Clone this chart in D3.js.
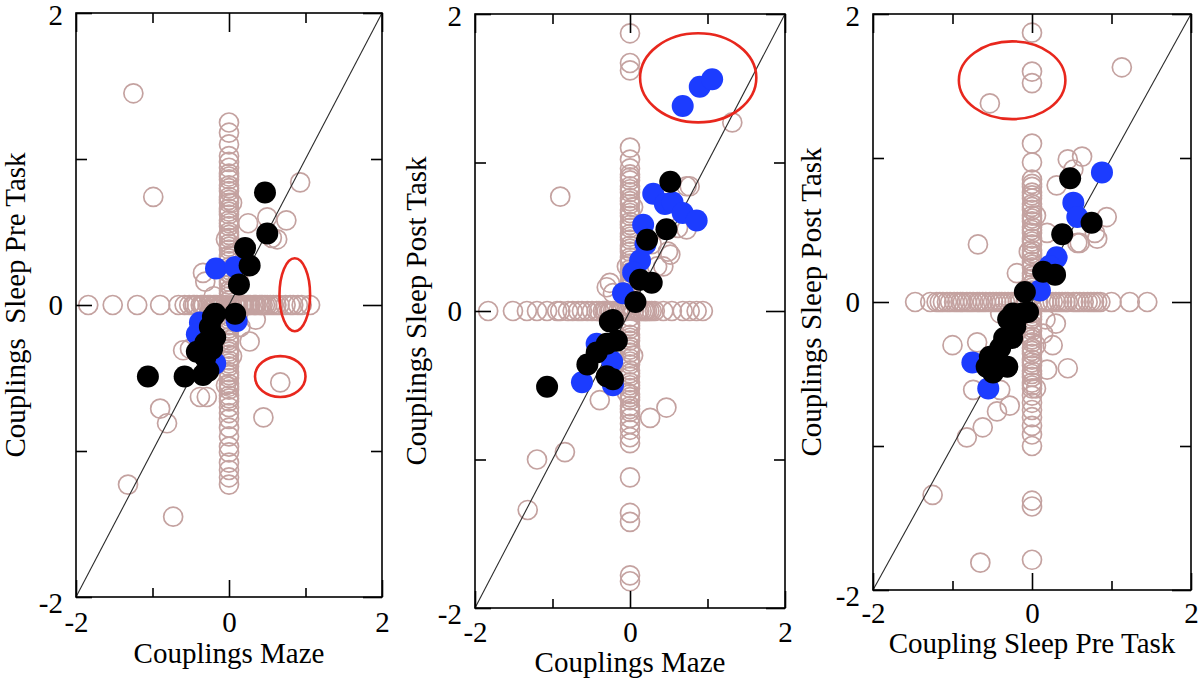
<!DOCTYPE html>
<html><head><meta charset="utf-8">
<script src="https://cdn.jsdelivr.net/npm/d3@7"></script>
<style>html,body{margin:0;padding:0;background:#fff;}</style>
</head><body>
<script>
// ---------------- DATA ----------------
const majorTicks = [-2, 0, 2];
const minorTicks = [-1, 1];
const tickLabels = {"-2": "-2", "0": "0", "2": "2"};

const xTitles = ["Couplings Maze", "Couplings Maze", "Coupling Sleep Pre Task"];
const yTitles = ["Couplings  Sleep Pre Task", "Couplings Sleep Post Task", "Couplings Sleep Post Task"];

// Panel 1 : Maze vs Sleep Pre
const p1Column = [1.25,1.18,1.1,1.02,0.98,0.94,0.9,0.86,0.82,0.78,0.74,0.7,0.66,0.62,0.58,0.54,0.5,0.46,0.42,0.38,0.34,0.3,0.26,0.22,0.18,0.14,0.1,0.06,-0.06,-0.1,-0.14,-0.18,-0.22,-0.26,-0.3,-0.34,-0.38,-0.42,-0.46,-0.5,-0.54,-0.58,-0.62,-0.66,-0.7,-0.74,-0.78,-0.84,-0.9,-0.97,-1.01,-1.08,-1.13,-1.18,-1.23,
  0.88,0.8,0.72,0.64,0.56,0.48,0.4,0.32,0.24,0.16,0.08,0.03,-0.03,-0.08,-0.16,-0.24,-0.32,-0.4,-0.48,-0.56,-0.64];
const p1Row = [-1.84,-1.52,-1.2,-0.9,-0.66,-0.58,-0.52,-0.47,-0.42,-0.37,-0.33,-0.28,-0.24,-0.2,-0.16,-0.12,-0.08,-0.04,0.04,0.08,0.12,0.16,0.2,0.24,0.28,0.32,0.36,0.4,0.44,0.5,0.58,0.66,0.74,0.8,0.84,0.9,0.95,1.06,
  -0.45,-0.35,-0.26,-0.18,-0.1,0.1,0.18,0.26,0.34,0.42,0.47,0.54,0.62];
const p1Scatter = [[-1.25,1.45],[-0.99,0.74],[0.93,0.84],[0.75,0.58],[0.5,0.6],[0.25,0.56],[0.63,0.45],[0.56,0.46],[0.67,-0.53],[0.45,-0.77],[0.27,-0.25],[-0.51,-0.3],[-0.6,-0.31],[-0.38,-0.63],[-0.29,-0.63],[-0.9,-0.71],[-0.81,-0.81],[-1.32,-1.23],[-0.73,-1.45],[0.35,-0.1],[-0.31,0.16],[-0.34,0.22],[0.15,-0.15],[-0.12,-0.14],[0.2,0.3],[0.12,0.18],[-0.2,0.06],[0.04,0.7],[-0.04,0.45],[0.04,-0.35],[-0.04,-0.55],[0.03,0.2]];
const p1Blue = [[-0.17,0.25],[0.08,0.26],[-0.38,-0.12],[-0.42,-0.2],[-0.18,-0.4],[0.1,-0.11]];
const p1Black = [[0.47,0.77],[0.5,0.49],[0.21,0.39],[0.27,0.27],[0.13,0.14],[0.08,-0.06],[-0.18,-0.06],[-0.21,-0.08],[-0.25,-0.15],[-0.18,-0.22],[-0.31,-0.26],[-0.42,-0.32],[-0.31,-0.36],[-1.06,-0.49],[-0.58,-0.49],[-0.34,-0.48],[-0.27,-0.45],[-0.22,-0.3]];
const p1Ellipses = [[0.86,0.07,0.2,0.25],[0.67,-0.49,0.33,0.14]];

// Panel 2 : Maze vs Sleep Post
const p2Column = [1.87,1.67,1.62,1.1,1.02,0.96,0.92,0.88,0.84,0.8,0.76,0.72,0.68,0.64,0.6,0.56,0.52,0.48,0.44,0.4,0.36,0.32,0.28,0.24,0.2,0.16,0.12,0.08,0.04,-0.04,-0.08,-0.12,-0.16,-0.2,-0.24,-0.28,-0.32,-0.36,-0.4,-0.44,-0.48,-0.52,-0.56,-0.6,-0.64,-0.68,-0.72,-0.76,-0.8,-0.85,-0.89,-1.12,-1.36,-1.42,-1.78,-1.82,
  0.9,0.82,0.74,0.66,0.58,0.5,0.42,0.34,0.26,0.18,0.1,-0.1,-0.18,-0.26,-0.34,-0.42,-0.5,-0.58,-0.66];
const p2Row = [-1.83,-1.51,-1.33,-1.2,-1.07,-0.94,-0.9,-0.8,-0.74,-0.67,-0.62,-0.55,-0.49,-0.43,-0.35,-0.3,-0.25,-0.2,-0.15,-0.1,-0.05,0.05,0.1,0.15,0.2,0.25,0.32,0.43,0.54,0.68,0.77,0.86,0.94,
  -0.4,-0.33,-0.27,-0.22,-0.12,0.12,0.18,0.22,0.28];
const p2Scatter = [[-0.9,0.77],[1.32,1.27],[0.73,0.84],[0.77,0.84],[0.73,0.55],[0.49,0.4],[0.43,0.3],[0.52,0.38],[0.35,0.3],[-0.3,0.16],[-0.22,0.12],[-0.26,0.19],[-0.39,-0.6],[0.47,-0.65],[0.26,-0.72],[-1.2,-1.0],[-0.84,-0.95],[-1.32,-1.34],[0.62,0.56],[0.28,0.45],[0.04,0.7],[-0.04,0.3],[0.04,-0.3],[-0.04,-0.55]];
const p2Blue = [[0.68,1.38],[0.9,1.51],[1.06,1.56],[0.3,0.79],[0.45,0.72],[0.55,0.73],[0.68,0.66],[0.86,0.61],[0.17,0.58],[0.2,0.45],[0.13,0.34],[0.04,0.26],[-0.09,0.12],[-0.43,-0.22],[-0.23,-0.34],[-0.62,-0.48],[-0.22,-0.5]];
const p2Black = [[0.52,0.87],[0.47,0.55],[0.22,0.48],[0.13,0.21],[0.28,0.19],[0.07,0.06],[-0.22,-0.06],[-0.26,-0.07],[-0.17,-0.2],[-0.3,-0.22],[-0.43,-0.28],[-0.55,-0.36],[-0.3,-0.44],[-0.22,-0.46],[-1.07,-0.51]];
const p2Ellipses = [[0.88,1.57,0.75,0.3]];

// Panel 3 : Sleep Pre vs Sleep Post
const p3Column = [1.87,1.6,1.52,1.1,0.97,0.85,0.8,0.76,0.72,0.68,0.64,0.6,0.56,0.52,0.48,0.44,0.4,0.36,0.32,0.28,0.24,0.2,0.16,0.12,0.08,0.04,-0.04,-0.08,-0.12,-0.16,-0.2,-0.24,-0.28,-0.32,-0.36,-0.4,-0.44,-0.48,-0.52,-0.56,-0.6,-0.65,-0.7,-0.75,-0.8,-0.86,-0.92,-1.0,-1.38,-1.42,-1.79,
  0.82,0.74,0.66,0.58,0.5,0.42,0.34,0.26,0.18,0.1,-0.1,-0.18,-0.26,-0.34,-0.42,-0.5,-0.58];
const p3Row = [-1.47,-1.28,-1.2,-1.12,-1.03,-0.94,-0.87,-0.78,-0.69,-0.62,-0.53,-0.45,-0.38,-0.3,-0.22,-0.15,-0.08,0.08,0.15,0.22,0.3,0.38,0.45,0.52,0.6,0.7,0.78,0.86,1.0,1.23,1.45,
  -1.16,-1.07,-0.98,-0.9,-0.82,-0.74,-0.66,-0.58,-0.49,-0.41,-0.34,-0.26,-0.18,0.18,0.26,0.34,0.42,0.56,0.65,0.74,0.82];
const p3Scatter = [[-0.53,1.38],[1.13,1.63],[-0.68,0.4],[0.45,0.99],[0.63,1.01],[0.31,0.81],[0.94,0.59],[0.82,0.44],[0.57,0.41],[0.19,0.48],[-0.19,0.2],[-1.0,-0.3],[-0.69,-0.28],[0.45,-0.46],[0.19,-0.47],[-0.74,-0.61],[-0.4,-0.61],[-0.28,-0.72],[-0.44,-0.76],[-0.62,-0.87],[-0.82,-0.94],[0.14,-0.22],[0.26,-0.3],[-0.4,-0.08],[-1.25,-1.34],[-0.65,-1.81],[0.52,0.92],[0.79,0.48],[0.6,0.41],[0.17,-0.12],[0.3,-0.15],[0.05,0.6],[0.05,-0.3],[0.05,-0.6],[-0.04,0.35]];
const p3Blue = [[0.88,0.9],[0.52,0.69],[0.57,0.59],[0.31,0.31],[0.22,0.25],[0.1,0.08],[-0.75,-0.42],[-0.55,-0.6]];
const p3Black = [[0.48,0.86],[0.75,0.55],[0.38,0.47],[0.14,0.21],[0.29,0.19],[-0.09,0.07],[-0.13,-0.08],[-0.05,-0.07],[-0.24,-0.08],[-0.3,-0.12],[-0.21,-0.17],[-0.25,-0.25],[-0.35,-0.25],[-0.4,-0.32],[-0.53,-0.38],[-0.31,-0.45],[-0.57,-0.45],[-0.49,-0.49]];
const p3Ellipses = [[-0.25,1.54,0.67,0.27]];

// ---------------- LAYOUT ----------------
const W = 1200, H = 681;
const FONT = "'Liberation Serif','Times New Roman',serif";
const panels = [
  {L:76, T:13, R:382, B:597, xTitleY:663, yTitleX:25, col:p1Column, row:p1Row, scatter:p1Scatter, blue:p1Blue, black:p1Black, ell:p1Ellipses, xPad:14},
  {L:475, T:14, R:785, B:608, xTitleY:672, yTitleX:426, col:p2Column, row:p2Row, scatter:p2Scatter, blue:p2Blue, black:p2Black, ell:p2Ellipses, xPad:13},
  {L:873, T:14, R:1191, B:590, xTitleY:653, yTitleX:821, col:p3Column, row:p3Row, scatter:p3Scatter, blue:p3Blue, black:p3Black, ell:p3Ellipses, xPad:12}
];

const svg = d3.select("body").append("svg").attr("width", W).attr("height", H)
  .style("font-family", FONT);
svg.append("rect").attr("width", W).attr("height", H).attr("fill", "#fff");

panels.forEach((p, i) => {
  const x = d3.scaleLinear().domain([-2, 2]).range([p.L, p.R]);
  const y = d3.scaleLinear().domain([-2, 2]).range([p.B, p.T]);
  const g = svg.append("g");

  const hollow = [
    ...p.col.map(v => [0, v]),
    ...p.row.map(v => [v, 0]),
    ...p.scatter
  ];
  g.append("g").selectAll("circle").data(hollow).join("circle")
    .attr("cx", d => x(d[0])).attr("cy", d => y(d[1])).attr("r", 9.5)
    .attr("fill", "none").attr("stroke", "#c4a2a0").attr("stroke-width", 1.7);

  g.append("line")
    .attr("x1", x(-2)).attr("y1", y(-2)).attr("x2", x(2)).attr("y2", y(2))
    .attr("stroke", "#2a2a2a").attr("stroke-width", 1.1);

  g.append("g").selectAll("circle").data(p.blue).join("circle")
    .attr("cx", d => x(d[0])).attr("cy", d => y(d[1])).attr("r", 11)
    .attr("fill", "#1c3cff");
  g.append("g").selectAll("circle").data(p.black).join("circle")
    .attr("cx", d => x(d[0])).attr("cy", d => y(d[1])).attr("r", 11)
    .attr("fill", "#000");

  g.append("g").selectAll("ellipse").data(p.ell).join("ellipse")
    .attr("cx", d => x(d[0])).attr("cy", d => y(d[1]))
    .attr("rx", d => x(d[2]) - x(0)).attr("ry", d => y(0) - y(d[3]))
    .attr("fill", "none").attr("stroke", "#e8271d").attr("stroke-width", 2.6);

  // frame
  g.append("rect").attr("x", p.L).attr("y", p.T).attr("width", p.R - p.L).attr("height", p.B - p.T)
    .attr("fill", "none").attr("stroke", "#000").attr("stroke-width", 1.6);

  const fmt = d => tickLabels[String(d)];
  const styleAxis = sel => {
    sel.select(".domain").remove();
    sel.selectAll(".tick line").attr("stroke", "#000").attr("stroke-width", 1.6);
    sel.selectAll(".tick text").attr("fill", "#000").style("font-size", "29px").style("font-family", FONT);
  };
  // major axes
  g.append("g").attr("transform", `translate(0,${p.B})`)
    .call(d3.axisBottom(x).tickValues(majorTicks).tickSize(-17).tickPadding(p.xPad).tickFormat(fmt)).call(styleAxis);
  const yAx = g.append("g").attr("transform", `translate(${p.L},0)`)
    .call(d3.axisLeft(y).tickValues(majorTicks).tickSize(-16).tickPadding(13).tickFormat(fmt)).call(styleAxis);
  yAx.selectAll(".tick text").filter(d => d === -2).attr("y", 6);
  yAx.selectAll(".tick text").filter(d => d === 2).attr("y", 2);
  g.append("g").attr("transform", `translate(0,${p.T})`)
    .call(d3.axisTop(x).tickValues(majorTicks).tickSize(-19).tickFormat("")).call(styleAxis);
  g.append("g").attr("transform", `translate(${p.R},0)`)
    .call(d3.axisRight(y).tickValues(majorTicks).tickSize(-19).tickFormat("")).call(styleAxis);
  // minor ticks
  g.append("g").attr("transform", `translate(0,${p.B})`)
    .call(d3.axisBottom(x).tickValues(minorTicks).tickSize(-9).tickFormat("")).call(styleAxis);
  g.append("g").attr("transform", `translate(0,${p.T})`)
    .call(d3.axisTop(x).tickValues(minorTicks).tickSize(-10).tickFormat("")).call(styleAxis);
  g.append("g").attr("transform", `translate(${p.L},0)`)
    .call(d3.axisLeft(y).tickValues(minorTicks).tickSize(-11).tickFormat("")).call(styleAxis);
  g.append("g").attr("transform", `translate(${p.R},0)`)
    .call(d3.axisRight(y).tickValues(minorTicks).tickSize(-11).tickFormat("")).call(styleAxis);

  // titles
  g.append("text").attr("x", (p.L + p.R) / 2).attr("y", p.xTitleY)
    .attr("text-anchor", "middle").style("font-size", "29px").attr("fill", "#000")
    .style("white-space", "pre").text(xTitles[i]);
  g.append("text")
    .attr("transform", `translate(${p.yTitleX},${(p.T + p.B) / 2}) rotate(-90)`)
    .attr("text-anchor", "middle").style("font-size", "29px").attr("fill", "#000")
    .attr("xml:space", "preserve").style("white-space", "pre").text(yTitles[i]);
});
</script>
</body></html>
